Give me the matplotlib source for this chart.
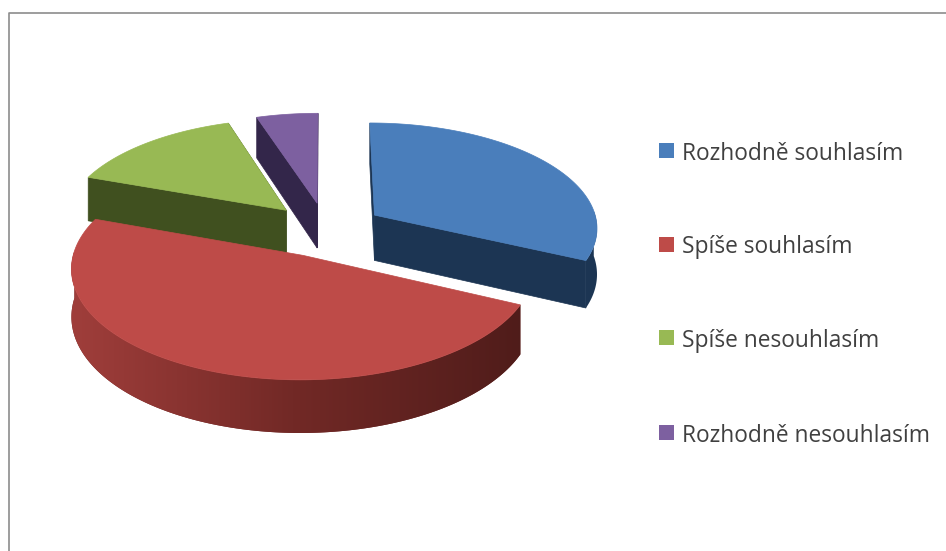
# plot.py - exploded 3D pie with a hand-built projection

import matplotlib
matplotlib.use('Agg')
import matplotlib.pyplot as plt
from matplotlib.colors import LinearSegmentedColormap
from matplotlib.lines import Line2D
from matplotlib.patches import Polygon, Rectangle
import numpy as np

plt.rcParams['font.family'] = ['Open Sans', 'DejaVu Sans']

labels = ['Rozhodně souhlasím', 'Spíše souhlasím', 'Spíše nesouhlasím', 'Rozhodně nesouhlasím']
values = [32, 48.5, 14.5, 5]

top_colors = ['#4a7ebb', '#be4b48', '#98b954', '#7d60a0']
wall_colors = ['#1c3553', '#6f2826', '#40501f', '#33264a']

# projection settings, in pixels
CX, CY = 326, 229.5
RX, RY = 224, 105
PERSP = 0.108
DEPTH = 46
EXPLODE = 0.26


def project(u, v, drop=0.0):
    s = 1.0 / (1.0 + PERSP * v)
    return np.column_stack([CX + RX * u * s, CY - RY * v * s + drop * DEPTH * s])


# the long front rim darkens from left to right
rim_cmap = LinearSegmentedColormap.from_list('rim', ['#a23f3c', '#722926', '#4f1c1a'])

fig = plt.figure(figsize=(9.46, 5.51), dpi=100)
ax = fig.add_axes([0, 0, 1, 1])
ax.axis('off')

# chart frame: only the top and left lines are drawn
ax.add_line(Line2D([9, 9, 946], [551, 13, 13], color='#8c8c8c', linewidth=1.2))

# slice angles, clockwise from twelve o'clock
edges = np.radians(np.concatenate([[0], np.cumsum(values)]) / np.sum(values) * 360)

slices = []
for i in range(len(values)):
    a0, a1 = edges[i], edges[i + 1]
    mid = (a0 + a1) / 2
    slices.append((i, a0, a1, EXPLODE * np.sin(mid), EXPLODE * np.cos(mid)))

# back slices first, the big front slice last
for i, a0, a1, du, dv in sorted(slices, key=lambda s: -s[4]):
    theta = np.linspace(a0, a1, 160)
    rim_u, rim_v = du + np.sin(theta), dv + np.cos(theta)
    top_rim = project(rim_u, rim_v)
    low_rim = project(rim_u, rim_v, 1)
    apex_top = project(np.array([du]), np.array([dv]))
    apex_low = project(np.array([du]), np.array([dv]), 1)

    # radial walls, the red ones stay hidden behind its top face
    if i != 1:
        for k in (0, -1):
            wall = np.vstack([apex_top, top_rim[k], low_rim[k], apex_low])
            ax.add_patch(Polygon(wall, closed=True, facecolor=wall_colors[i], edgecolor=wall_colors[i], linewidth=0.5))

    # outer rim, only where it faces the front
    front = np.cos(theta) < 0.05
    if front.any():
        rim = np.vstack([top_rim[front], low_rim[front][::-1]])
        patch = Polygon(rim, closed=True, facecolor=wall_colors[i], edgecolor='none')
        ax.add_patch(patch)
        if i == 1:
            shade = ax.imshow(np.linspace(0, 1, 256).reshape(1, -1), cmap=rim_cmap, aspect='auto',
                              extent=[60, 525, 440, 220], interpolation='bilinear', zorder=patch.get_zorder())
            shade.set_clip_path(patch)

    # top face
    top = np.vstack([apex_top, top_rim])
    ax.add_patch(Polygon(top, closed=True, facecolor=top_colors[i], edgecolor=top_colors[i], linewidth=0.5))

# legend
marker_y = [150.5, 244.5, 337.5, 432.5]
text_y = [160, 253, 347, 441.5]
for name, color, my, ty in zip(labels, top_colors, marker_y, text_y):
    ax.add_patch(Rectangle((659, my - 7.25), 14.5, 14.5, facecolor=color, edgecolor='none'))
    ax.text(682, ty, name, ha='left', va='baseline', fontsize=16.4, color='#404040')

ax.set_xlim(0, 946)
ax.set_ylim(551, 0)
fig.savefig('out.png', dpi=100)
